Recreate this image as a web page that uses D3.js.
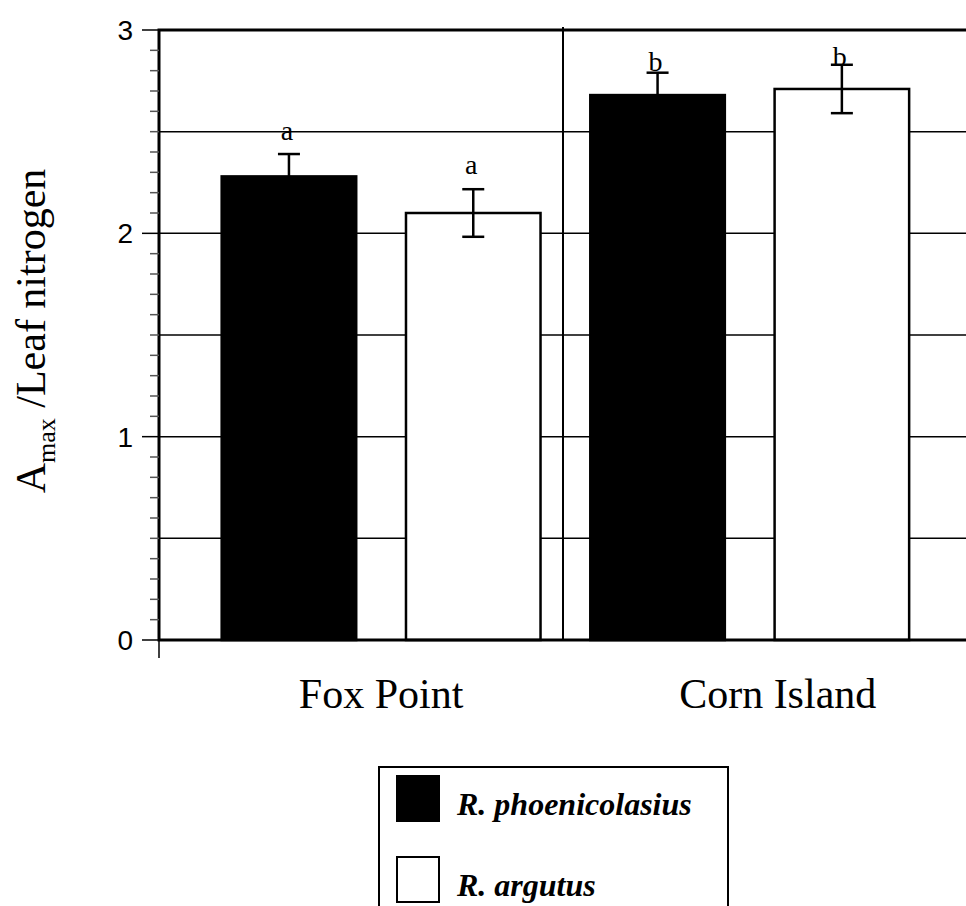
<!DOCTYPE html>
<html>
<head>
<meta charset="utf-8">
<script src="https://cdn.jsdelivr.net/npm/d3@7/dist/d3.min.js"></script>
<style>
    html, body { margin: 0; padding: 0; background: #fff; }
    svg { display: block; }
</style>
</head>
<body>
<svg id="chart"></svg>
<script>
// chart values
const sites = ['Fox Point', 'Corn Island'];
const species = ['R. phoenicolasius', 'R. argutus'];
const speciesFill = ['#000', '#fff'];

const phoenicolasiusMeans = [2.28, 2.68];
const phoenicolasiusErrors = [0.11, 0.11];
const argutusMeans = [2.10, 2.71];
const argutusErrors = [0.117, 0.119];

// significance letters and the height (in data units) where they sit
const phoenicolasiusLetters = ['a', 'b'];
const phoenicolasiusLetterY = [2.46, 2.80];
const argutusLetters = ['a', 'b'];
const argutusLetterY = [2.29, 2.825];

const yTicks = [0, 1, 2, 3];
const gridValues = [0.5, 1, 1.5, 2, 2.5];

class BarChart {
    constructor() {
        this.width = 966;
        this.height = 906;
        this.left = 159;
        this.right = 967;
        this.top = 30;
        this.bottom = 640;
        this.serif = '"Liberation Serif", "Times New Roman", serif';
        this.sans = '"Liberation Sans", Arial, sans-serif';
    }

    buildRows() {
        const rows = [];
        sites.forEach((site, i) => {
            rows.push({ site, sp: 0, mean: phoenicolasiusMeans[i], err: phoenicolasiusErrors[i],
                letter: phoenicolasiusLetters[i], letterY: phoenicolasiusLetterY[i] });
            rows.push({ site, sp: 1, mean: argutusMeans[i], err: argutusErrors[i],
                letter: argutusLetters[i], letterY: argutusLetterY[i] });
        });
        rows.forEach(r => r.key = r.site + '|' + r.sp);
        return rows;
    }

    initialize() {
        this.svg = d3.select('#chart')
            .attr('width', this.width)
            .attr('height', this.height);

        this.rows = this.buildRows();

        this.x = d3.scaleBand()
            .domain(this.rows.map(r => r.key))
            .range([this.left, this.right])
            .paddingInner(0.27)
            .paddingOuter(0.327)
            .align(0.52);

        this.y = d3.scaleLinear()
            .domain([0, 3])
            .range([this.bottom, this.top]);
    }

    drawGrid() {
        this.svg.append('g')
            .selectAll('line')
            .data(gridValues)
            .enter()
            .append('line')
            .attr('x1', this.left)
            .attr('x2', this.right)
            .attr('y1', d => this.y(d))
            .attr('y2', d => this.y(d))
            .attr('stroke', '#000')
            .attr('stroke-width', 1.5);

        // divider between the two sites
        const mid = (this.left + this.right) / 2;
        this.svg.append('line')
            .attr('x1', mid).attr('x2', mid)
            .attr('y1', this.top - 3).attr('y2', this.bottom)
            .attr('stroke', '#000')
            .attr('stroke-width', 2);
    }

    drawBars() {
        const bw = this.x.bandwidth();
        const g = this.svg.append('g');

        g.selectAll('.bar')
            .data(this.rows)
            .enter()
            .append('rect')
            .attr('class', 'bar')
            .attr('x', d => this.x(d.key))
            .attr('y', d => this.y(d.mean))
            .attr('width', bw)
            .attr('height', d => this.y(0) - this.y(d.mean))
            .attr('fill', d => speciesFill[d.sp])
            .attr('stroke', '#000')
            .attr('stroke-width', 2.5);

        const err = g.selectAll('.err')
            .data(this.rows)
            .enter()
            .append('g')
            .attr('class', 'err')
            .attr('transform', d => `translate(${this.x(d.key) + bw / 2},0)`);

        err.append('line')
            .attr('y1', d => this.y(d.mean + d.err))
            .attr('y2', d => this.y(d.mean - d.err))
            .attr('stroke', '#000')
            .attr('stroke-width', 2.5);

        err.selectAll('.cap')
            .data(d => [d.mean + d.err, d.mean - d.err])
            .enter()
            .append('line')
            .attr('x1', -11).attr('x2', 11)
            .attr('y1', v => this.y(v))
            .attr('y2', v => this.y(v))
            .attr('stroke', '#000')
            .attr('stroke-width', 2.5);

        g.selectAll('.letter')
            .data(this.rows)
            .enter()
            .append('text')
            .attr('class', 'letter')
            .attr('x', d => this.x(d.key) + bw / 2 - 2)
            .attr('y', d => this.y(d.letterY))
            .attr('text-anchor', 'middle')
            .style('font-family', this.serif)
            .style('font-size', '28px')
            .text(d => d.letter);
    }

    drawAxes() {
        const frame = this.svg.append('g')
            .attr('stroke', '#000')
            .attr('stroke-width', 3)
            .attr('fill', 'none');
        frame.append('path')
            .attr('d', `M${this.right},${this.top}H${this.left}V${this.bottom}H${this.right}`);

        // minor ticks every 0.1
        const minor = d3.range(0, 31).map(i => i / 10);
        this.svg.append('g')
            .selectAll('line')
            .data(minor)
            .enter()
            .append('line')
            .attr('x1', d => yTicks.includes(d) ? this.left - 17 : this.left - 9)
            .attr('x2', this.left)
            .attr('y1', d => this.y(d))
            .attr('y2', d => this.y(d))
            .attr('stroke', d => yTicks.includes(d) ? '#000' : '#555')
            .attr('stroke-width', 1.5);

        this.svg.append('g')
            .selectAll('text')
            .data(yTicks)
            .enter()
            .append('text')
            .attr('x', this.left - 26)
            .attr('y', d => this.y(d))
            .attr('dy', '0.36em')
            .attr('text-anchor', 'end')
            .style('font-family', this.sans)
            .style('font-size', '28px')
            .text(d => d);

        // small tick below the origin
        this.svg.append('line')
            .attr('x1', this.left).attr('x2', this.left)
            .attr('y1', this.bottom).attr('y2', this.bottom + 18)
            .attr('stroke', '#000')
            .attr('stroke-width', 1.5);

        // site labels
        const labelShift = [0, 28];
        const bw = this.x.bandwidth();
        this.svg.append('g')
            .selectAll('text')
            .data(sites)
            .enter()
            .append('text')
            .attr('x', (d, i) => {
                const a = this.x(d + '|0');
                const b = this.x(d + '|1') + bw;
                return (a + b) / 2 + labelShift[i];
            })
            .attr('y', 708)
            .attr('text-anchor', 'middle')
            .style('font-family', this.serif)
            .style('font-size', '42px')
            .text(d => d);

        // y axis title
        const title = this.svg.append('text')
            .attr('transform', 'translate(45,331) rotate(-90)')
            .attr('text-anchor', 'middle')
            .style('font-family', this.serif)
            .style('font-size', '42px');
        title.append('tspan').text('A');
        title.append('tspan').attr('dy', 10).style('font-size', '26px').text('max');
        title.append('tspan').attr('dy', -10).text(' /Leaf nitrogen');
    }

    drawLegend() {
        const lg = this.svg.append('g').attr('transform', 'translate(379,767)');
        lg.append('rect')
            .attr('width', 349)
            .attr('height', 170)
            .attr('fill', '#fff')
            .attr('stroke', '#000')
            .attr('stroke-width', 2);

        const item = lg.selectAll('.item')
            .data(species)
            .enter()
            .append('g')
            .attr('class', 'item')
            .attr('transform', (d, i) => `translate(18,${9 + i * 81})`);

        item.append('rect')
            .attr('width', 42)
            .attr('height', 45)
            .attr('fill', (d, i) => speciesFill[i])
            .attr('stroke', '#000')
            .attr('stroke-width', 2);

        item.append('text')
            .attr('x', 60)
            .attr('y', 39)
            .style('font-family', this.serif)
            .style('font-size', '32px')
            .style('font-weight', 'bold')
            .style('font-style', 'italic')
            .text(d => d);
    }

    render() {
        this.initialize();
        this.drawGrid();
        this.drawBars();
        this.drawAxes();
        this.drawLegend();
    }
}

new BarChart().render();
</script>
</body>
</html>
